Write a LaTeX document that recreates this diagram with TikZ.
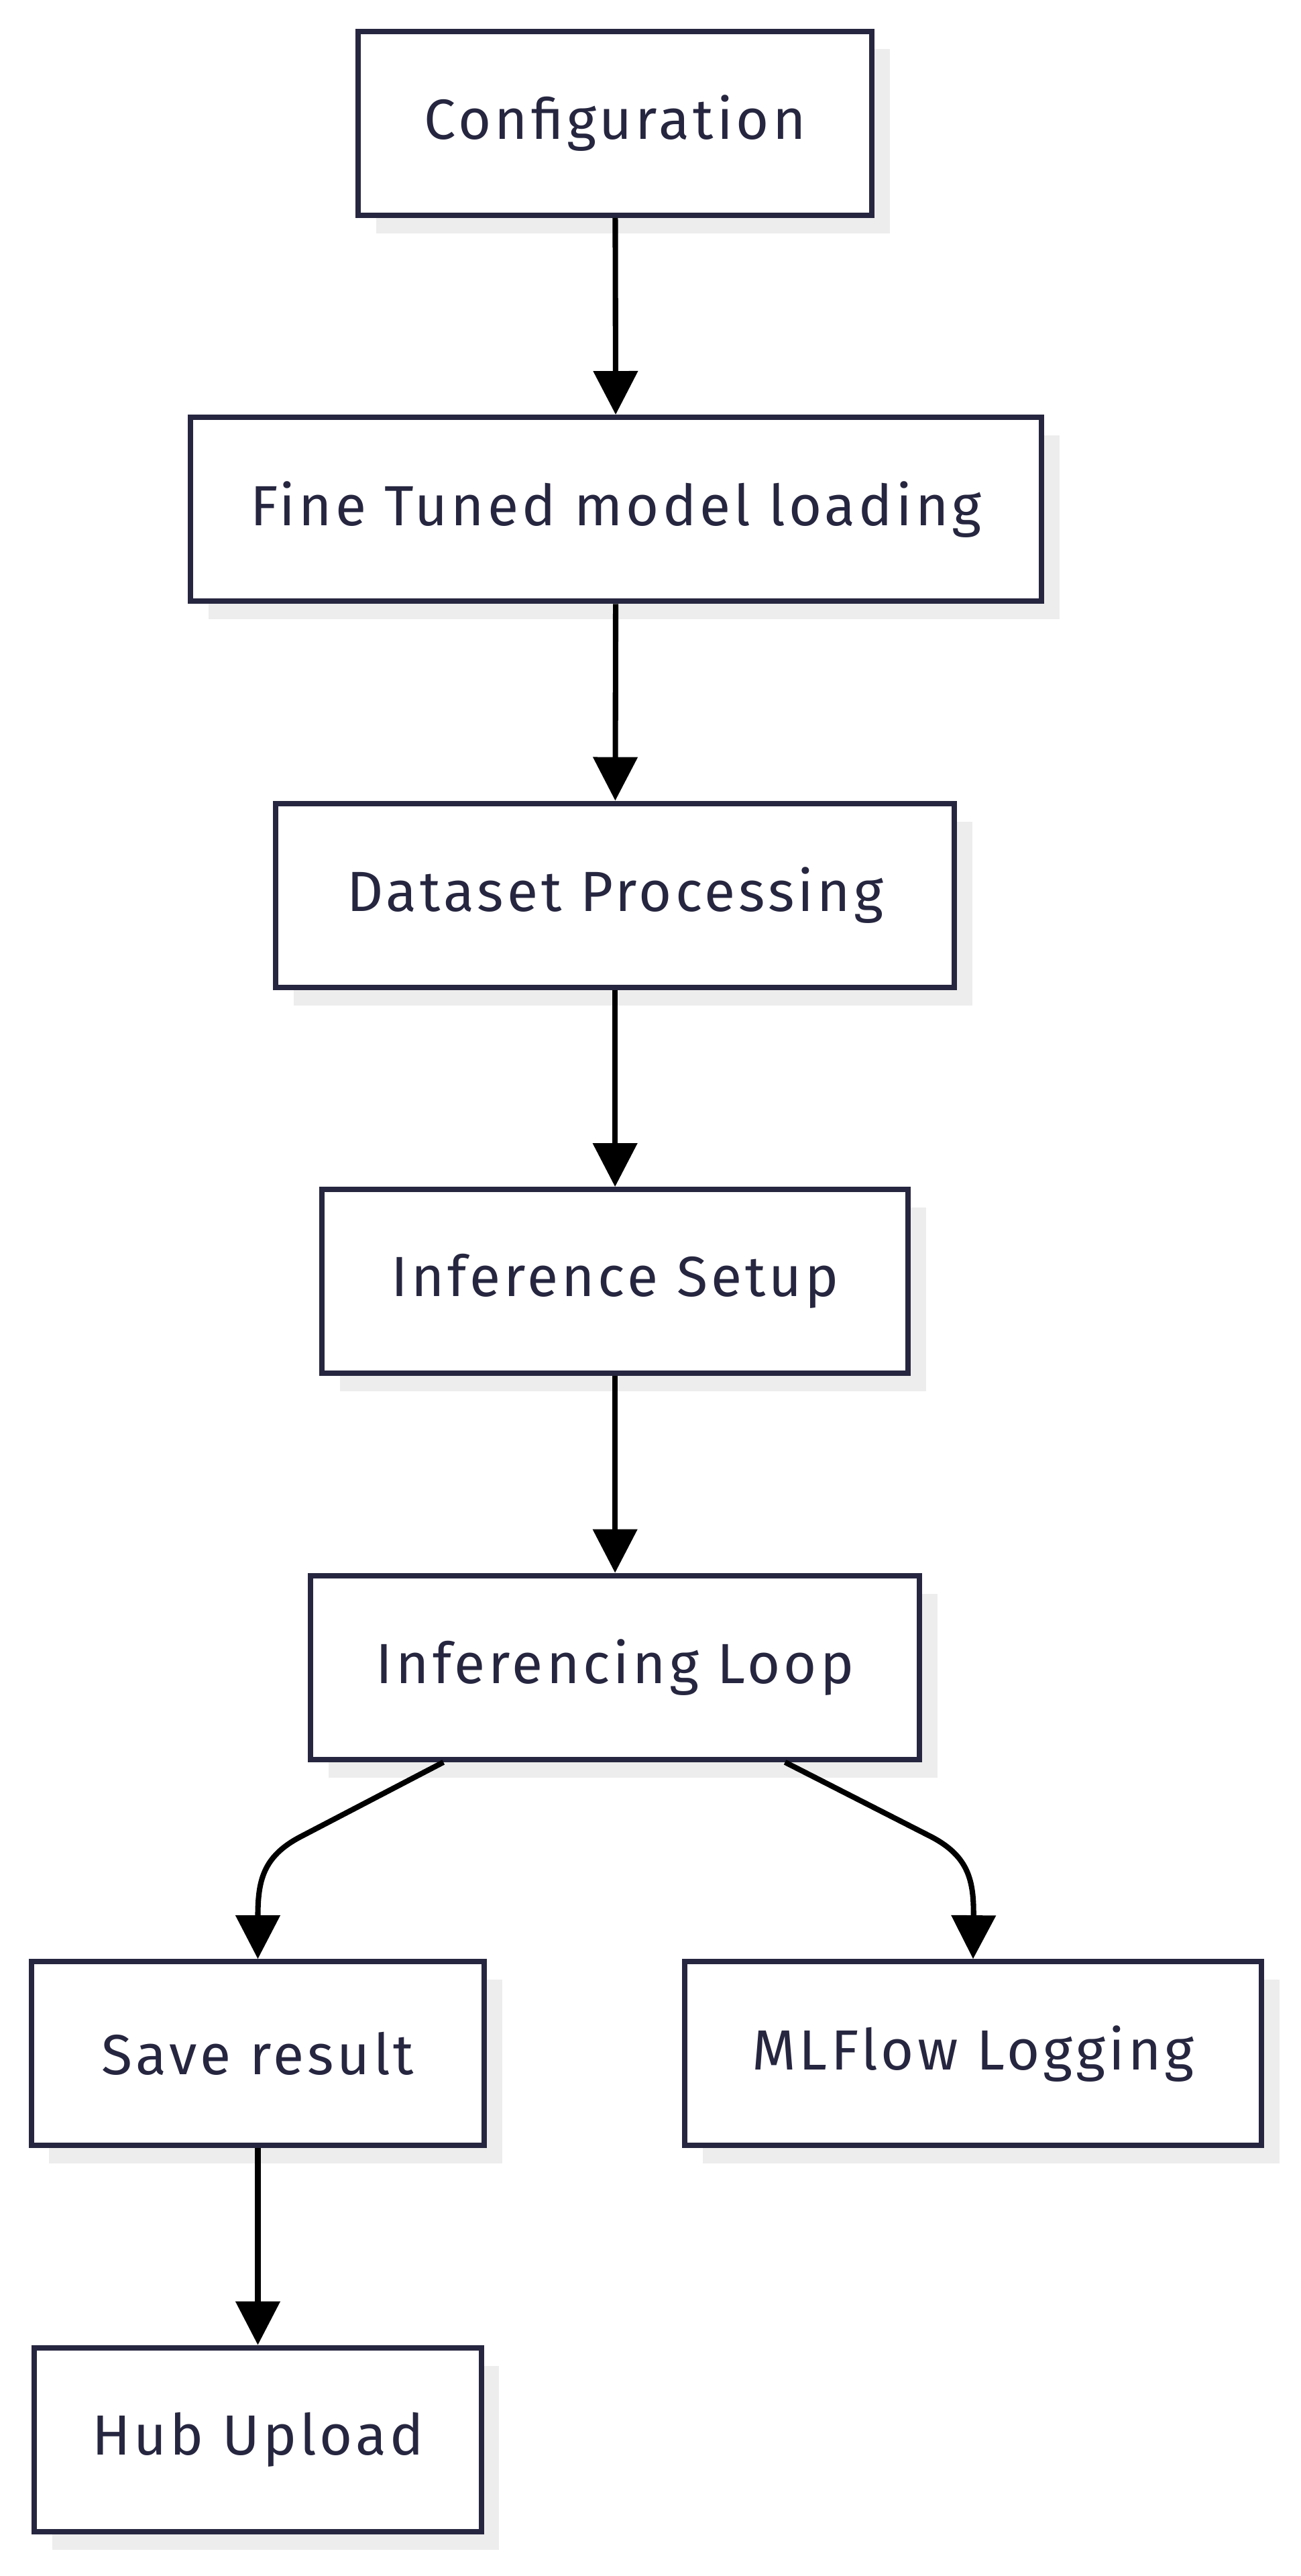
\documentclass[tikz,border=0pt]{standalone}
\usepackage{fontspec}
\setmainfont{Fira Sans}[LetterSpace=6]
\usetikzlibrary{arrows.meta, positioning, calc}
\definecolor{boxline}{HTML}{262640}

\begin{document}
\begin{tikzpicture}[x=0.02447cm, y=-0.02447cm]
    % --- Style Definitions ---
    \tikzset{
        % Boxes with a soft shadow
        step box/.style={
            draw=boxline,
            line width=2.3pt,
            fill=white,
            minimum height=2.74cm,
            font=\fontsize{24}{28}\selectfont,
            text=boxline
        },
        box shadow/.style={
            fill=black!7,
            draw=none
        },
        % Arrow styling
        flow arrow/.style={
            -{Triangle[length=0.65cm, width=0.65cm]},
            line width=2.3pt,
            black
        }
    }

    % --- Bounding box ---
    \useasboundingbox (0,0) rectangle (792,1568);

    % --- Shadows ---
    \foreach \xa/\ya/\xb/\yb in {218/19/531/131, 116/254/634/366, 168/489/581/601,
        196/724/553/836, 189/959/560/1071, 19/1194/295/1306, 417/1194/768/1306,
        21/1429/293/1541}
        \fill[box shadow] (\xa+11,\ya+11) rectangle (\xb+11,\yb+11);

    % --- Boxes ---
    \node[step box, minimum width=7.66cm] (config) at (374.5,75) {Configuration};
    \node[step box, minimum width=12.68cm] (model) at (375,310) {Fine Tuned model loading};
    \node[step box, minimum width=10.11cm] (data) at (374.5,545) {Dataset Processing};
    \node[step box, minimum width=8.74cm] (setup) at (374.5,780) {Inference Setup};
    \node[step box, minimum width=9.08cm] (loop) at (374.5,1015) {Inferencing Loop};
    \node[step box, minimum width=6.75cm] (save) at (157,1250) {Save result};
    \node[step box, minimum width=8.59cm] (mlflow) at (592.5,1250) {MLFlow Logging};
    \node[step box, minimum width=6.66cm] (hub) at (157,1485) {Hub Upload};

    % --- Connectors ---
    \draw[flow arrow] (config) -- (model);
    \draw[flow arrow] (model) -- (data);
    \draw[flow arrow] (data) -- (setup);
    \draw[flow arrow] (setup) -- (loop);
    \draw[flow arrow] (loop.south -| 270,0) -- (183,1118)
        .. controls (160,1130) and (157,1145) .. (save.north);
    \draw[flow arrow] (loop.south -| 478,0) -- (567,1118)
        .. controls (590,1130) and (593,1145) .. (mlflow.north);
    \draw[flow arrow] (save) -- (hub);
\end{tikzpicture}
\end{document}
